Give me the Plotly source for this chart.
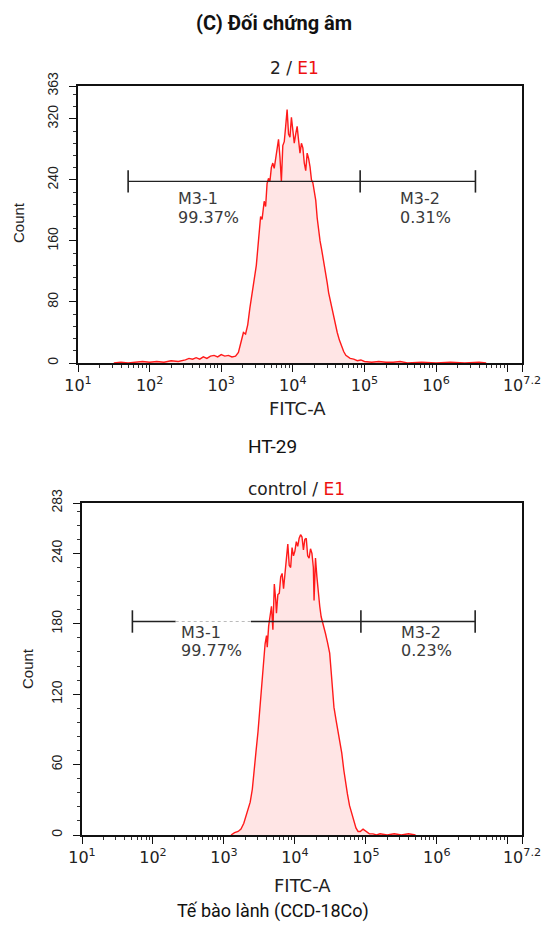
import plotly.graph_objects as go

# ---------------- data ----------------
# HT-29 histogram: log10(FITC-A) positions and counts
ht29_log = [1.50, 1.60, 1.70, 1.80, 1.90, 2.00, 2.10, 2.20, 2.30, 2.40, 2.50, 2.55, 2.60, 2.65, 2.70,
            2.75, 2.80, 2.85, 2.90, 2.95, 3.00, 3.05, 3.10, 3.15, 3.20, 3.24, 3.28, 3.31, 3.34, 3.37,
            3.40, 3.43, 3.46, 3.49, 3.52, 3.55, 3.57, 3.60, 3.62, 3.64, 3.66, 3.68, 3.70, 3.72, 3.74,
            3.76, 3.78, 3.80, 3.82, 3.84, 3.86, 3.88, 3.90, 3.92, 3.94, 3.96, 3.98, 4.00, 4.02, 4.04,
            4.06, 4.08, 4.10, 4.12, 4.14, 4.16, 4.18, 4.20, 4.22, 4.24, 4.26, 4.28, 4.30, 4.32, 4.34,
            4.36, 4.38, 4.40, 4.42, 4.44, 4.46, 4.48, 4.50, 4.53, 4.56, 4.59, 4.62, 4.65, 4.68, 4.71,
            4.74, 4.77, 4.80, 4.85, 4.90, 4.95, 5.00, 5.10, 5.20, 5.30, 5.40, 5.50, 5.60, 5.80, 6.00,
            6.20, 6.40, 6.60, 6.70]
ht29_count = [0, 1, 0, 1, 2, 1, 2, 1, 3, 2, 4, 6, 5, 7, 5,
              8, 6, 9, 10, 8, 11, 9, 10, 8, 9, 14, 30, 40, 38, 50,
              72, 90, 105, 128, 160, 192, 188, 212, 205, 235, 242, 238, 256, 262, 255,
              268, 280, 293, 270, 238, 285, 290, 310, 332, 300, 296, 322, 305, 288, 300,
              310, 292, 275, 288, 282, 262, 252, 275, 268, 257, 240, 236, 222, 213, 190,
              172, 160, 150, 140, 128, 118, 105, 92, 78, 65, 52, 40, 30, 22, 15,
              10, 8, 6, 5, 3, 4, 2, 1, 2, 1, 1, 2, 0, 1, 0,
              1, 0, 1, 0]

# CCD-18Co (control) histogram
ccd_log = [3.10, 3.15, 3.20, 3.24, 3.28, 3.33, 3.37, 3.40, 3.43, 3.45, 3.48, 3.50, 3.52, 3.54, 3.56,
           3.58, 3.60, 3.61, 3.63, 3.65, 3.67, 3.69, 3.71, 3.73, 3.74, 3.76, 3.78, 3.80, 3.82, 3.84,
           3.86, 3.88, 3.90, 3.92, 3.94, 3.96, 3.98, 4.00, 4.02, 4.04, 4.06, 4.08, 4.10, 4.12, 4.14,
           4.16, 4.18, 4.20, 4.22, 4.24, 4.26, 4.27, 4.29, 4.31, 4.33, 4.35, 4.37, 4.39, 4.41, 4.43,
           4.46, 4.49, 4.51, 4.53, 4.55, 4.58, 4.61, 4.64, 4.66, 4.69, 4.71, 4.74, 4.77, 4.80, 4.83,
           4.86, 4.89, 4.92, 4.96, 5.00, 5.05, 5.10, 5.15, 5.20, 5.30, 5.40, 5.50, 5.60, 5.70]
ccd_count = [0, 2, 3, 5, 10, 19, 28, 39, 55, 70, 88, 104, 120, 135, 150,
             163, 170, 160, 178, 185, 195, 175, 214, 200, 189, 205, 206, 220, 223, 210,
             224, 240, 248, 230, 228, 245, 238, 242, 250, 246, 253, 256, 254, 243, 252,
             253, 238, 236, 244, 240, 228, 200, 236, 220, 206, 195, 186, 182, 178, 172,
             164, 155, 140, 120, 109, 98, 88, 78, 70, 55, 45, 35, 25, 18, 11,
             6, 3, 3, 5, 3, 1, 1, 0, 1, 0, 1, 0, 1, 0]

# gates (log10 positions) and their count level
ht29_gate = [1.70, 4.94, 6.55]
ht29_gate_y = 238
ccd_gate = [1.71, 4.93, 6.54]
ccd_gate_y = 182
ccd_gate_faded = [2.32, 3.38]

gate_names = ["M3-1", "M3-2"]
ht29_pct = ["99.37%", "0.31%"]
ccd_pct = ["99.77%", "0.23%"]

x_tickvals_log = [1, 2, 3, 4, 5, 6, 7, 7.2]
x_ticktext = ["10<sup>1</sup>", "10<sup>2</sup>", "10<sup>3</sup>", "10<sup>4</sup>",
              "10<sup>5</sup>", "10<sup>6</sup>", "", "10<sup>7.2</sup>"]
y1_ticks = [0, 80, 160, 240, 320, 363]
y2_ticks = [0, 60, 120, 180, 240, 283]

# ---------------- figure ----------------
W, H = 547, 933
RED = "#ff1a1a"
FILL = "rgba(255,0,0,0.10)"
ARIAL = "Liberation Sans, Arial, sans-serif"
WIDE = "DejaVu Sans, sans-serif"
NARROW = "Roboto, Liberation Sans Narrow, sans-serif"

fig = go.Figure()

def add_hist(logs, counts, xa, ya):
    fig.add_trace(go.Scatter(x=[10 ** v for v in logs], y=counts, mode="lines",
                             line=dict(color=RED, width=1.4), fill="tozeroy",
                             fillcolor=FILL, xaxis=xa, yaxis=ya, hoverinfo="skip"))

def add_gate(g, gy, xa, ya):
    fig.add_trace(go.Scatter(x=[10 ** v for v in g], y=[gy] * len(g), mode="lines+markers",
                             line=dict(color="#222", width=1.4),
                             marker=dict(symbol="line-ns", size=16, line=dict(color="#222", width=1.6)),
                             xaxis=xa, yaxis=ya, hoverinfo="skip"))

add_hist(ht29_log, ht29_count, "x", "y")
add_gate(ht29_gate, ht29_gate_y, "x", "y")
add_hist(ccd_log, ccd_count, "x2", "y2")
add_gate(ccd_gate, ccd_gate_y, "x2", "y2")
# faded part of the lower left gate line
fig.add_trace(go.Scatter(x=[10 ** v for v in ccd_gate_faded], y=[ccd_gate_y] * 2, mode="lines",
                         line=dict(color="white", width=3), xaxis="x2", yaxis="y2", hoverinfo="skip"))
fig.add_trace(go.Scatter(x=[10 ** v for v in ccd_gate_faded], y=[ccd_gate_y] * 2, mode="lines",
                         line=dict(color="#bbbbbb", width=1.2, dash="dot"), xaxis="x2", yaxis="y2",
                         hoverinfo="skip"))

minor_x = [k * 10 ** d for d in range(1, 7) for k in range(2, 10)]

def xaxis_style(dom, anchor):
    return dict(domain=dom, anchor=anchor, type="log", range=[1, 7.2], automargin=False,
                tickvals=[10 ** v for v in x_tickvals_log], ticktext=x_ticktext,
                ticks="outside", ticklen=7, tickwidth=1.4, tickcolor="#111",
                showline=True, linecolor="#111", linewidth=1.6, mirror=True,
                showgrid=False, zeroline=False,
                tickfont=dict(family=WIDE, size=16, color="#222"),
                minor=dict(tickmode="array", tickvals=minor_x, ticks="outside",
                           ticklen=3, tickwidth=1, tickcolor="#333", showgrid=False))

def yaxis_style(dom, anchor, top, major, mdt):
    return dict(domain=dom, anchor=anchor, range=[0, top], tickvals=major, automargin=False,
                ticks="outside", ticklen=7, tickwidth=1.4, tickcolor="#111",
                showline=True, linecolor="#111", linewidth=1.6, mirror=True,
                showgrid=False, zeroline=False, tickangle=-90,
                tickfont=dict(family=ARIAL, size=14, color="#222"),
                ticklabelstandoff=6,
                minor=dict(dtick=mdt, tick0=0, ticks="outside", ticklen=3, tickwidth=1,
                           tickcolor="#333", showgrid=False))

fig.update_layout(
    template="none",
    width=W, height=H, margin=dict(l=0, r=0, t=0, b=0, autoexpand=False),
    paper_bgcolor="white", plot_bgcolor="white", showlegend=False,
    xaxis=xaxis_style([78 / W, 522 / W], "y"),
    yaxis=yaxis_style([1 - 363 / H, 1 - 86 / H], "x", 363, y1_ticks, 16),
    xaxis2=xaxis_style([82 / W, 522 / W], "y2"),
    yaxis2=yaxis_style([1 - 835 / H, 1 - 503 / H], "x2", 283, y2_ticks, 12),
)

def pa(text, xp, yp, font, **kw):
    fig.add_annotation(text=text, x=xp / W, y=1 - yp / H, xref="paper", yref="paper",
                       xanchor="center", yanchor="middle",
                       showarrow=False, font=font, **kw)

pa("<b>(C) Đối chứng âm</b>", 274, 23, dict(family=NARROW, size=20, color="#111"))
pa("2 / <span style='color:#ee1111'>E1</span>", 294, 68, dict(family=WIDE, size=17, color="#222"))
pa("control / <span style='color:#ee1111'>E1</span>", 296, 489, dict(family=WIDE, size=17, color="#222"))
pa("Count", 18, 223, dict(family=ARIAL, size=15, color="#222"), textangle=-90)
pa("Count", 27, 669, dict(family=ARIAL, size=15, color="#222"), textangle=-90)
pa("FITC-A", 298, 408, dict(family=WIDE, size=18, color="#222"))
pa("FITC-A", 302, 885, dict(family=WIDE, size=18, color="#222"))
pa("HT-29", 272, 446, dict(family=NARROW, size=19, color="#111"))
pa("Tế bào lành (CCD-18Co)", 273, 911, dict(family=NARROW, size=18, color="#111"))

def gate_text(names, pcts, xs, y_name, y_pct, xa, ya):
    for n, p, xv in zip(names, pcts, xs):
        for t, yv in ((n, y_name), (p, y_pct)):
            fig.add_annotation(text=t, x=xv, y=yv, xref=xa, yref=ya, showarrow=False,
                               xanchor="left", yanchor="middle", align="left",
                               font=dict(family=WIDE, size=16, color="#3a3a3a"))

gate_text(gate_names, ht29_pct, [2.37, 5.47], 216, 191, "x", "y")
gate_text(gate_names, ccd_pct, [2.37, 5.46], 173, 157, "x2", "y2")

fig.write_html("out.html", config={"displayModeBar": False},
               post_script="document.body.style.margin='0px';")
